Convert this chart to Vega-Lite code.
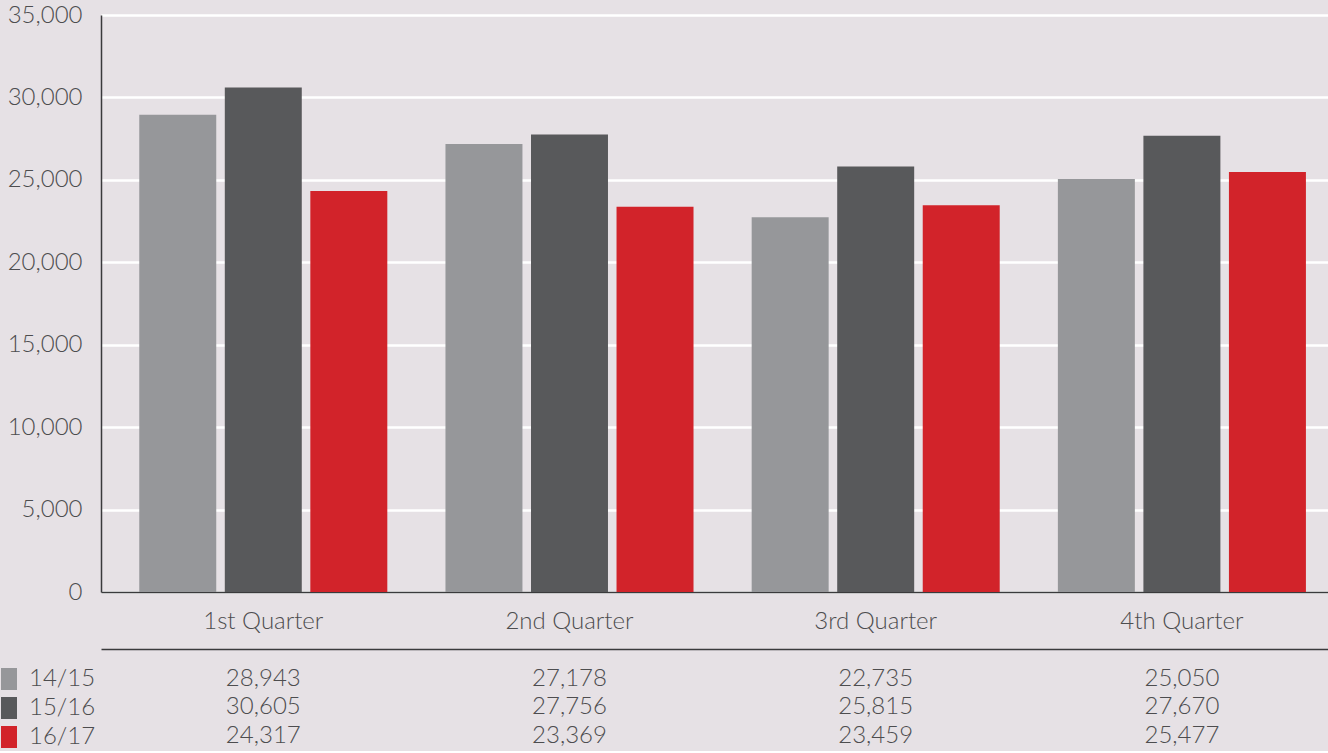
{
  "$schema": "https://vega.github.io/schema/vega-lite/v6.json",
  "background": "#e6e1e5",
  "padding": {"top": 3, "left": 0, "right": 0, "bottom": 0},
  "spacing": 16,
  "config": {
    "view": {"stroke": null},
    "font": "Lato",
    "text": {"font": "Lato"}
  },
  "data": {
    "values": [
      {"quarter": "1st Quarter", "series": "14/15", "value": 28943},
      {"quarter": "1st Quarter", "series": "15/16", "value": 30605},
      {"quarter": "1st Quarter", "series": "16/17", "value": 24317},
      {"quarter": "2nd Quarter", "series": "14/15", "value": 27178},
      {"quarter": "2nd Quarter", "series": "15/16", "value": 27756},
      {"quarter": "2nd Quarter", "series": "16/17", "value": 23369},
      {"quarter": "3rd Quarter", "series": "14/15", "value": 22735},
      {"quarter": "3rd Quarter", "series": "15/16", "value": 25815},
      {"quarter": "3rd Quarter", "series": "16/17", "value": 23459},
      {"quarter": "4th Quarter", "series": "14/15", "value": 25050},
      {"quarter": "4th Quarter", "series": "15/16", "value": 27670},
      {"quarter": "4th Quarter", "series": "16/17", "value": 25477}
    ]
  },
  "vconcat": [
    {
      "width": 1234,
      "height": 577,
      "mark": {"type": "bar"},
      "encoding": {
        "x": {
          "field": "quarter", "type": "nominal",
          "sort": ["1st Quarter", "2nd Quarter", "3rd Quarter", "4th Quarter"],
          "scale": {"paddingInner": 0, "paddingOuter": 0.015, "align": 1},
          "axis": {
            "title": null, "labelAngle": 0, "ticks": false,
            "domainColor": "#3a3a3c", "domainWidth": 1.5,
            "labelFontSize": 24, "labelPadding": 17, "labelColor": "#4d4d4f",
            "labelFontWeight": 300, "labelFont": "Lato"
          }
        },
        "xOffset": {
          "field": "series", "type": "nominal",
          "scale": {"paddingInner": 0.1, "paddingOuter": 0.34}
        },
        "y": {
          "field": "value", "type": "quantitative",
          "scale": {"domain": [0, 35000]},
          "axis": {
            "title": null,
            "values": [0, 5000, 10000, 15000, 20000, 25000, 30000, 35000],
            "format": ",d", "grid": true, "gridColor": "#ffffff", "gridWidth": 2.5,
            "ticks": false, "domainColor": "#3a3a3c", "domainWidth": 1.5,
            "labelFontSize": 24, "labelPadding": 19, "labelColor": "#4d4d4f",
            "labelFontWeight": 300, "labelFont": "Lato"
          }
        },
        "color": {
          "field": "series", "type": "nominal",
          "scale": {"domain": ["14/15", "15/16", "16/17"], "range": ["#96979a", "#58595b", "#d2232a"]},
          "legend": {
            "title": null, "orient": "none", "legendX": -101, "legendY": 652,
            "symbolType": "M-1,-1H0.4545V1H-1Z", "symbolSize": 484,
            "symbolStrokeWidth": 0, "symbolOpacity": 1,
            "labelFontSize": 24, "labelColor": "#4d4d4f", "labelFontWeight": 300,
            "labelFont": "Lato", "labelOffset": 5, "rowPadding": 5,
            "encode": {
              "symbols": {
                "update": {
                  "size": {"value": 484},
                  "shape": {"value": "M-1,-1H0.4545V1H-1Z"},
                  "strokeWidth": {"value": 0},
                  "opacity": {"value": 1}
                }
              }
            }
          }
        }
      }
    },
    {
      "width": 1234,
      "height": 101.5,
      "mark": {"type": "text", "fontSize": 24, "color": "#4d4d4f", "fontWeight": 300, "font": "Lato"},
      "encoding": {
        "x": {
          "field": "quarter", "type": "nominal",
          "sort": ["1st Quarter", "2nd Quarter", "3rd Quarter", "4th Quarter"],
          "scale": {"type": "band", "paddingInner": 0, "paddingOuter": 0.015, "align": 1},
          "axis": {
            "orient": "top", "title": null, "labels": false, "ticks": false,
            "domainColor": "#3a3a3c", "domainWidth": 1.5
          }
        },
        "y": {
          "field": "series", "type": "nominal",
          "sort": ["14/15", "15/16", "16/17"],
          "scale": {"type": "band", "paddingInner": 0, "paddingOuter": 0.27, "align": 1},
          "axis": null
        },
        "text": {"field": "value", "type": "quantitative", "format": ",d"}
      }
    }
  ]
}
